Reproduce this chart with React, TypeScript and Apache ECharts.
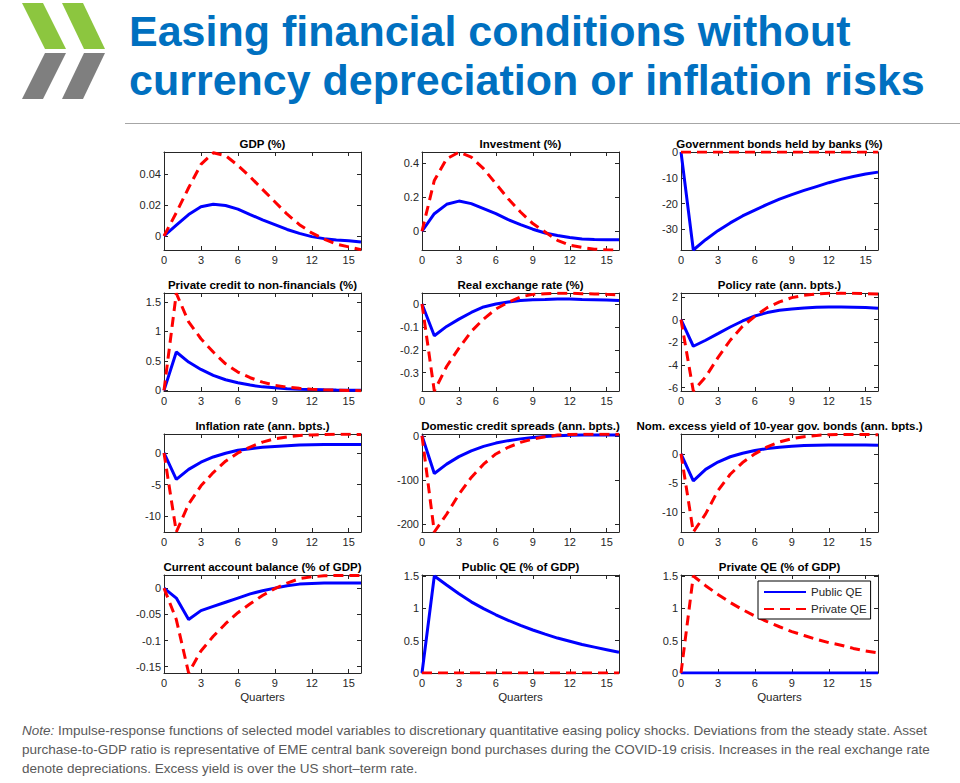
import React, { useEffect, useRef } from "react";
import * as echarts from "echarts";

const quarters = [0, 1, 2, 3, 4, 5, 6, 7, 8, 9, 10, 11, 12, 13, 14, 15, 16];
const xTicks = [0, 3, 6, 9, 12, 15];
const seriesNames = ["Public QE", "Private QE"];

const panelTitles = [
  "GDP (%)",
  "Investment (%)",
  "Government bonds held by banks (%)",
  "Private credit to non-financials (%)",
  "Real exchange rate (%)",
  "Policy rate (ann. bpts.)",
  "Inflation rate (ann. bpts.)",
  "Domestic credit spreads (ann. bpts.)",
  "Nom. excess yield of 10-year gov. bonds (ann. bpts.)",
  "Current account balance (% of GDP)",
  "Public QE (% of GDP)",
  "Private QE (% of GDP)",
];

// Public QE (blue) and Private QE (red) responses
const gdpPublic = [0, 0.007, 0.0138, 0.0188, 0.0204, 0.0196, 0.0173, 0.0138, 0.0104, 0.0073, 0.0042, 0.0017, -0.0004, -0.0017, -0.0025, -0.003, -0.0038];
const gdpPrivate = [0, 0.015, 0.031, 0.046, 0.0535, 0.0517, 0.0454, 0.038, 0.03, 0.022, 0.014, 0.0073, 0.002, -0.002, -0.0052, -0.007, -0.0088];

const invPublic = [0, 0.103, 0.158, 0.177, 0.162, 0.133, 0.103, 0.068, 0.039, 0.012, -0.01, -0.025, -0.037, -0.045, -0.049, -0.05, -0.05];
const invPrivate = [0, 0.298, 0.425, 0.464, 0.435, 0.367, 0.279, 0.191, 0.113, 0.045, -0.004, -0.053, -0.082, -0.095, -0.105, -0.109, -0.11];

const bondsPublic = [0, -38, -34, -30.5, -27.5, -24.8, -22.5, -20.3, -18.3, -16.5, -14.9, -13.4, -11.9, -10.6, -9.5, -8.5, -7.8];
const bondsPrivate = [0, 0, 0, 0, 0, 0, 0, 0, 0, 0, 0, 0, 0, 0, 0, 0, 0];

const creditPublic = [0, 0.65, 0.48, 0.355, 0.255, 0.18, 0.13, 0.09, 0.06, 0.045, 0.03, 0.02, 0.015, 0.01, 0.006, 0.004, 0.002];
const creditPrivate = [0, 1.645, 1.16, 0.875, 0.65, 0.45, 0.31, 0.215, 0.14, 0.085, 0.056, 0.035, 0.02, 0.01, 0.004, 0, -0.005];

const rerPublic = [0, -0.139, -0.098, -0.066, -0.037, -0.013, 0, 0.009, 0.015, 0.019, 0.02, 0.022, 0.022, 0.02, 0.019, 0.017, 0.015];
const rerPrivate = [0, -0.38, -0.273, -0.193, -0.12, -0.066, -0.022, 0.007, 0.031, 0.042, 0.045, 0.047, 0.047, 0.045, 0.044, 0.042, 0.039];

const policyPublic = [0, -2.35, -1.82, -1.24, -0.65, -0.12, 0.32, 0.62, 0.82, 0.94, 1.03, 1.09, 1.12, 1.12, 1.09, 1.06, 1.0];
const policyPrivate = [0, -6.3, -5.06, -3.35, -1.82, -0.59, 0.29, 1.06, 1.56, 1.94, 2.15, 2.26, 2.32, 2.35, 2.32, 2.29, 2.26];

const inflPublic = [0, -4.17, -2.6, -1.46, -0.63, -0.05, 0.42, 0.68, 0.89, 1.04, 1.15, 1.25, 1.3, 1.33, 1.35, 1.35, 1.35];
const inflPrivate = [0, -12.5, -8.07, -5.2, -3.1, -1.3, 0, 0.94, 1.72, 2.24, 2.55, 2.76, 2.86, 2.92, 2.95, 2.95, 2.92];

const spreadPublic = [0, -85, -64, -47, -34, -24, -16.5, -11, -7, -4, -1.5, 0, 1, 1.5, 1.5, 1.5, 1.5];
const spreadPrivate = [0, -217, -177, -132, -94, -64, -41, -26, -15, -7.5, -2.3, 1.5, 3, 3.5, 3.7, 3.7, 3.7];

const yieldPublic = [0, -4.63, -2.66, -1.41, -0.5, 0.11, 0.56, 0.9, 1.13, 1.3, 1.41, 1.47, 1.53, 1.53, 1.52, 1.5, 1.47];
const yieldPrivate = [0, -13.4, -10.3, -6.3, -3.5, -1.5, 0, 1.19, 2.03, 2.6, 2.94, 3.16, 3.28, 3.33, 3.33, 3.33, 3.28];

const caPublic = [0, -0.019, -0.06, -0.043, -0.035, -0.027, -0.019, -0.011, -0.005, 0, 0.0044, 0.0076, 0.0089, 0.0095, 0.0095, 0.0095, 0.0095];
const caPrivate = [0, -0.06, -0.162, -0.12, -0.092, -0.068, -0.047, -0.03, -0.014, -0.001, 0.0095, 0.018, 0.0215, 0.0234, 0.024, 0.024, 0.024];

const pubQePublic = [0, 1.5, 1.36, 1.225, 1.1, 0.995, 0.9, 0.815, 0.735, 0.665, 0.6, 0.54, 0.49, 0.44, 0.4, 0.36, 0.32];
const pubQePrivate = [0, 0, 0, 0, 0, 0, 0, 0, 0, 0, 0, 0, 0, 0, 0, 0, 0];

const privQePublic = [0, 0, 0, 0, 0, 0, 0, 0, 0, 0, 0, 0, 0, 0, 0, 0, 0];
const privQePrivate = [0, 1.5, 1.35, 1.215, 1.09, 0.98, 0.88, 0.795, 0.715, 0.64, 0.58, 0.52, 0.47, 0.43, 0.38, 0.34, 0.31];

const publicSeries = [gdpPublic, invPublic, bondsPublic, creditPublic, rerPublic, policyPublic, inflPublic, spreadPublic, yieldPublic, caPublic, pubQePublic, privQePublic];
const privateSeries = [gdpPrivate, invPrivate, bondsPrivate, creditPrivate, rerPrivate, policyPrivate, inflPrivate, spreadPrivate, yieldPrivate, caPrivate, pubQePrivate, privQePrivate];

// y-axis extents and tick labels
const yMins = [-0.009, -0.11, -38, -0.01, -0.38, -6.3, -12.5, -217, -13.4, -0.162, 0, 0];
const yMaxs = [0.054, 0.465, 0, 1.65, 0.048, 2.35, 3, 4, 3.4, 0.025, 1.515, 1.515];
const yTickValues = [
  [0, 0.02, 0.04],
  [0, 0.2, 0.4],
  [-30, -20, -10, 0],
  [0, 0.5, 1, 1.5],
  [-0.3, -0.2, -0.1, 0],
  [-6, -4, -2, 0, 2],
  [-10, -5, 0],
  [-200, -100, 0],
  [-10, -5, 0],
  [-0.15, -0.1, -0.05, 0],
  [0, 0.5, 1, 1.5],
  [0, 0.5, 1, 1.5],
];

const titleLines = ["Easing financial conditions without", "currency depreciation or inflation risks"];
const noteLines = [
  "{i|Note:} Impulse-response functions of selected model variables to discretionary quantitative easing policy shocks. Deviations from the steady state. Asset",
  "purchase-to-GDP ratio is representative of EME central bank sovereign bond purchases during the COVID-19 crisis. Increases in the real exchange rate",
  "denote depreciations. Excess yield is over the US short\u2013term rate.",
];

const FONT = '"Liberation Sans", Arial, Helvetica, sans-serif';
const AXIS_COLOR = "#262626";
const BLUE = "#0000ff";
const RED = "#ff0000";

function buildOption() {
  const colLeft = [164, 422, 681];
  const rowTop = [152, 293, 434, 575];
  const W = 197;
  const H = 98;

  const grids: any[] = [];
  const xAxes: any[] = [];
  const yAxes: any[] = [];
  const series: any[] = [];
  const graphics: any[] = [];

  const axisLine = { show: true, onZero: false, lineStyle: { color: AXIS_COLOR, width: 1 } };
  const labelStyle = { fontSize: 11, color: AXIS_COLOR, fontFamily: FONT };

  panelTitles.forEach((title, i) => {
    const r = Math.floor(i / 3);
    const c = i % 3;
    const left = colLeft[c];
    const top = rowTop[r];
    grids.push({ left, top, width: W, height: H, containLabel: false });

    xAxes.push({
      gridIndex: i,
      type: "value",
      position: "bottom",
      min: 0,
      max: 16,
      axisLine,
      axisTick: { show: true, inside: true, length: 4, customValues: xTicks, lineStyle: { color: AXIS_COLOR } },
      axisLabel: { show: true, customValues: xTicks, margin: 4, ...labelStyle },
      splitLine: { show: false },
      name: r === 3 ? "Quarters" : "",
      nameLocation: "middle",
      nameGap: 18,
      nameTextStyle: { fontSize: 11.5, color: AXIS_COLOR, fontFamily: FONT },
    });
    xAxes.push({
      gridIndex: i,
      type: "value",
      position: "top",
      min: 0,
      max: 16,
      axisLine,
      axisTick: { show: true, inside: true, length: 4, customValues: xTicks, lineStyle: { color: AXIS_COLOR } },
      axisLabel: { show: false },
      splitLine: { show: false },
    });
    const yt = yTickValues[i];
    yAxes.push({
      gridIndex: i,
      type: "value",
      position: "left",
      min: yMins[i],
      max: yMaxs[i],
      axisLine,
      axisTick: { show: true, inside: true, length: 4, customValues: yt, lineStyle: { color: AXIS_COLOR } },
      axisLabel: {
        show: true,
        customValues: yt,
        margin: 3,
        ...labelStyle,
        formatter: (v: number) => String(+v.toFixed(4)),
      },
      splitLine: { show: false },
    });
    yAxes.push({
      gridIndex: i,
      type: "value",
      position: "right",
      min: yMins[i],
      max: yMaxs[i],
      axisLine,
      axisTick: { show: true, inside: true, length: 4, customValues: yt, lineStyle: { color: AXIS_COLOR } },
      axisLabel: { show: false },
      splitLine: { show: false },
    });

    series.push({
      type: "line",
      name: seriesNames[0],
      xAxisIndex: 2 * i,
      yAxisIndex: 2 * i,
      data: quarters.map((q, k) => [q, publicSeries[i][k]]),
      symbol: "none",
      lineStyle: { color: BLUE, width: 3 },
      itemStyle: { color: BLUE },
      silent: true,
    });
    series.push({
      type: "line",
      name: seriesNames[1],
      xAxisIndex: 2 * i,
      yAxisIndex: 2 * i,
      data: quarters.map((q, k) => [q, privateSeries[i][k]]),
      symbol: "none",
      lineStyle: { color: RED, width: 3, type: [10, 6] },
      itemStyle: { color: RED },
      silent: true,
    });

    graphics.push({
      type: "text",
      x: left + W / 2,
      y: top - 8,
      style: {
        text: title,
        font: `bold 11.5px ${FONT}`,
        fill: "#000",
        align: "center",
        verticalAlign: "middle",
      },
    });
  });

  // OECD-like logo
  const green = "#8cc63f";
  const grey = "#7f7f7f";
  graphics.push(
    { type: "polygon", shape: { points: [[22, 3], [43, 3], [66, 49], [45, 49]] }, style: { fill: green } },
    { type: "polygon", shape: { points: [[45, 53], [66, 53], [43, 99], [22, 99]] }, style: { fill: grey } },
    { type: "polygon", shape: { points: [[62, 3], [83, 3], [105, 49], [84, 49]] }, style: { fill: green } },
    { type: "polygon", shape: { points: [[84, 53], [105, 53], [83, 99], [62, 99]] }, style: { fill: grey } }
  );

  titleLines.forEach((t, k) => {
    graphics.push({
      type: "text",
      x: 129,
      y: 31 + k * 49,
      style: { text: t, font: `bold 43px ${FONT}`, fill: "#0070c0", align: "left", verticalAlign: "middle" },
    });
  });

  graphics.push({
    type: "line",
    shape: { x1: 125, y1: 123.5, x2: 960, y2: 123.5 },
    style: { stroke: "#a6a6a6", lineWidth: 1 },
  });

  noteLines.forEach((t, k) => {
    graphics.push({
      type: "text",
      x: 22,
      y: 730 + k * 19,
      style: {
        text: t,
        font: `13.5px ${FONT}`,
        fill: "#595959",
        align: "left",
        verticalAlign: "middle",
        rich: { i: { fontStyle: "italic", fontSize: 13.5, fontFamily: FONT, fill: "#595959" } },
      },
    });
  });

  return {
    animation: false,
    backgroundColor: "#ffffff",
    grid: grids,
    xAxis: xAxes,
    yAxis: yAxes,
    series,
    legend: {
      data: seriesNames,
      orient: "vertical",
      left: 758,
      top: 581,
      itemWidth: 42,
      itemHeight: 10,
      itemGap: 5,
      padding: [5, 4, 4, 5],
      borderColor: "#000",
      borderWidth: 1,
      backgroundColor: "#fff",
      selectedMode: false,
      itemStyle: { color: "rgba(0,0,0,0)", borderWidth: 0, opacity: 0 },
      textStyle: { fontSize: 11.5, color: AXIS_COLOR, fontFamily: FONT },
      z: 10,
    },
    graphic: graphics,
  };
}

export default function App() {
  const ref = useRef<HTMLDivElement>(null);
  useEffect(() => {
    document.body.style.margin = "0";
    const chart = echarts.init(ref.current as HTMLDivElement, null, { renderer: "svg" });
    chart.setOption(buildOption() as any);
    return () => chart.dispose();
  }, []);
  return <div ref={ref} style={{ width: 960, height: 783, background: "#fff" }} />;
}
